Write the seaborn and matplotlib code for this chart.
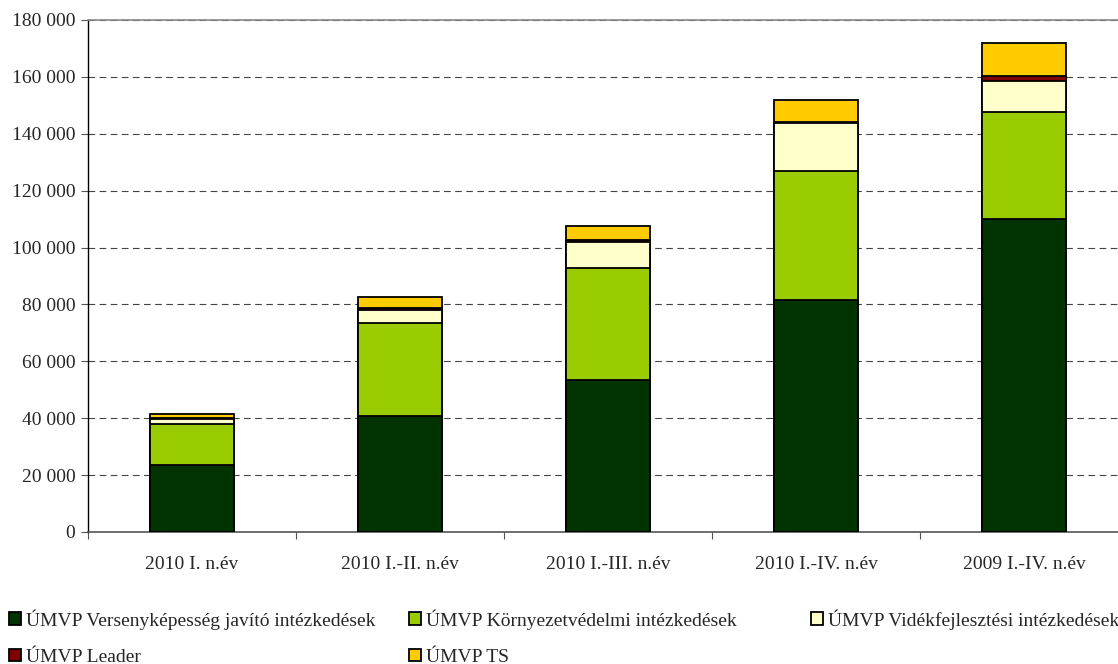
import matplotlib
matplotlib.use("Agg")
import matplotlib.pyplot as plt
import seaborn as sns
import pandas as pd
import numpy as np
from matplotlib.patches import Patch
from matplotlib.ticker import FuncFormatter, MultipleLocator

categories = ["2010 I. n.év", "2010 I.-II. n.év", "2010 I.-III. n.év", "2010 I.-IV. n.év", "2009 I.-IV. n.év"]
series_names = ["ÚMVP Versenyképesség javító intézkedések",
                "ÚMVP Környezetvédelmi intézkedések",
                "ÚMVP Vidékfejlesztési intézkedések",
                "ÚMVP Leader",
                "ÚMVP TS"]
versenykepesseg = [23500, 40800, 53400, 81600, 110000]
kornyezetvedelmi = [14500, 32800, 39500, 45400, 37700]
videkfejlesztesi = [1700, 4400, 9100, 16700, 10900]
leader = [500, 600, 700, 600, 1700]
ts = [1300, 3900, 5000, 7600, 11500]
colors = ["#003300", "#99CC00", "#FFFFCC", "#800000", "#FFCC00"]

sns.set_style("white")
plt.rcParams['font.family'] = ['Liberation Serif', 'DejaVu Serif']

fig = plt.figure(figsize=(11.18, 6.64), dpi=100)
ax = fig.add_axes([88/1118, 1-532/664, 1040/1118, 512/664])

series = [versenykepesseg, kornyezetvedelmi, videkfejlesztesi, leader, ts]
cum = np.cumsum(np.array(series), axis=0)

for i in range(len(series) - 1, -1, -1):
    df = pd.DataFrame({"cat": categories, "val": cum[i]})
    sns.barplot(data=df, x="cat", y="val", ax=ax, color=colors[i], width=0.4,
                edgecolor="black", linewidth=1.3, saturation=1, zorder=3)

ax.set_xlim(-0.5, 4.5)
ax.set_ylim(0, 180000)
ax.yaxis.set_major_locator(MultipleLocator(20000))
ax.yaxis.set_major_formatter(FuncFormatter(lambda v, p: f"{int(v):,}".replace(",", " ")))
ax.set_xlabel("")
ax.set_ylabel("")
ax.grid(axis="y", color="#444444", linestyle=(0, (6, 4)), linewidth=0.8, zorder=0)
ax.grid(axis="x", visible=False)
ax.spines["right"].set_visible(False)
ax.spines["left"].set_color("black")
ax.spines["left"].set_linewidth(1.0)
ax.spines["bottom"].set_color("#555555")
ax.spines["bottom"].set_linewidth(1.2)
ax.spines["top"].set_color("#888888")
ax.spines["top"].set_linewidth(1.2)
ax.tick_params(axis="y", which="major", left=True, length=5, width=0.8, labelsize=14, pad=4, color="#555555")
ax.set_xticks(range(len(categories)))
ax.set_xticklabels(categories)
ax.tick_params(axis="x", which="major", bottom=False, labelsize=14, pad=14)
ax.set_xticks(np.arange(-0.5, 5, 1), minor=True)
ax.tick_params(axis="x", which="minor", bottom=True, length=5, width=0.8, color="#555555")

handles = [Patch(facecolor=c, edgecolor="black", linewidth=1.3) for c in colors]
legend_kw = dict(frameon=False, fontsize=14, handlelength=0.6, handleheight=0.6,
                 handletextpad=0.3, labelspacing=0.98, borderaxespad=0, borderpad=0)
top = 1 - 609/664
fig.legend([handles[0], handles[3]], [series_names[0], series_names[3]],
           loc="upper left", bbox_to_anchor=(9/1118, top), **legend_kw)
fig.legend([handles[1], handles[4]], [series_names[1], series_names[4]],
           loc="upper left", bbox_to_anchor=(409/1118, top), **legend_kw)
fig.legend([handles[2]], [series_names[2]],
           loc="upper left", bbox_to_anchor=(811/1118, top), **legend_kw)

fig.savefig("out.png", dpi=100)
